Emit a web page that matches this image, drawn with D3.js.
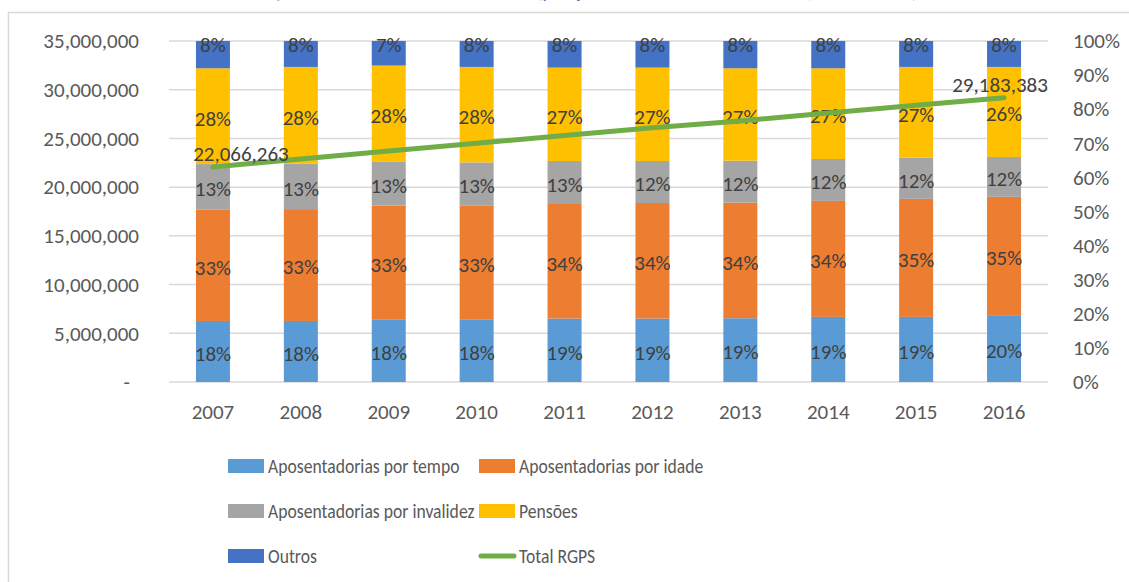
<!DOCTYPE html>
<html>
<head>
<meta charset="utf-8">
<script src="https://cdn.jsdelivr.net/npm/d3@7"></script>
<style>
  body { margin: 0; background: #fff; }
  text { font-family: Calibri, Carlito, Lato, sans-serif; }
</style>
</head>
<body>
<script>
  var years = ["2007","2008","2009","2010","2011","2012","2013","2014","2015","2016"];
  var seriesNames = ["Aposentadorias por tempo","Aposentadorias por idade","Aposentadorias por invalidez","Pensões","Outros"];
  var seriesColors = ["#5b9bd5","#ed7d31","#a5a5a5","#ffc000","#4472c4"];

  // shares in % of total, per year
  var tempo     = [17.9, 17.9, 18.4, 18.4, 18.6, 18.6, 18.7, 19.1, 19.1, 19.6];
  var idade     = [32.6, 32.8, 33.3, 33.4, 33.6, 33.9, 33.9, 34.0, 34.6, 34.7];
  var invalidez = [13.4, 13.4, 13.0, 12.6, 12.6, 12.3, 12.3, 12.3, 12.1, 11.7];
  var pensoes   = [28.1, 28.3, 28.1, 28.0, 27.4, 27.4, 27.1, 26.6, 26.6, 26.4];
  var outros    = [8.0, 7.6, 7.2, 7.6, 7.8, 7.8, 8.0, 8.0, 7.6, 7.6];

  var totalRGPS = [22066263, 22900000, 23700000, 24500000, 25300000, 26100000, 26800000, 27600000, 28400000, 29183383];

  var leftTicks = [0, 5e6, 10e6, 15e6, 20e6, 25e6, 30e6, 35e6];
  var rightTicks = [0, .1, .2, .3, .4, .5, .6, .7, .8, .9, 1];

  var svgWidth = 1129, svgHeight = 582;
  var plotLeft = 169, plotRight = 1048, plotTop = 41, plotBottom = 382;

  var svg = d3.select('body').append('svg')
    .attr('width', svgWidth)
    .attr('height', svgHeight);

  // caption of the figure, cut off at the top of the picture
  svg.append('text')
    .attr('x', 180).attr('y', -2)
    .attr('font-size', 19).attr('font-style', 'italic')
    .attr('fill', '#2e74b5')
    .text('Gráfico 1 – Quantidade de benefícios emitidos (posição em dezembro de cada ano, 2007 a 2016)');

  // chart box
  svg.append('rect')
    .attr('x', 8.5).attr('y', 12.5)
    .attr('width', svgWidth).attr('height', svgHeight)
    .attr('fill', '#fff')
    .attr('stroke', '#d9d9d9').attr('stroke-width', 1.5);

  var x = d3.scaleBand().domain(years).range([plotLeft, plotRight]);
  var yL = d3.scaleLinear().domain([0, 35e6]).range([plotBottom, plotTop]);
  var yR = d3.scaleLinear().domain([0, 1]).range([plotBottom, plotTop]);
  var barW = 34;

  // gridlines
  svg.append('g').selectAll('line')
    .data(leftTicks)
    .enter()
    .append('line')
      .attr('x1', plotLeft).attr('x2', plotRight)
      .attr('y1', function(d) { return yL(d); })
      .attr('y2', function(d) { return yL(d); })
      .attr('stroke', '#d9d9d9').attr('stroke-width', 1.5);

  // left axis
  var axL = svg.append('g')
    .attr('transform', 'translate(' + (plotLeft - 30) + ',0)')
    .call(d3.axisLeft(yL).tickValues(leftTicks).tickSize(0).tickPadding(0)
      .tickFormat(function(d) { return d === 0 ? '-' : d3.format(',')(d); }));
  axL.select('.domain').remove();
  axL.selectAll('text')
    .attr('font-size', 21).attr('fill', '#595959')
    .attr('dx', function(d) { return d === 0 ? -9 : 0; });

  // right axis
  var axR = svg.append('g')
    .attr('transform', 'translate(' + (plotRight + 25) + ',0)')
    .call(d3.axisRight(yR).tickValues(rightTicks).tickSize(0).tickPadding(0)
      .tickFormat(d3.format('.0%')));
  axR.select('.domain').remove();
  axR.selectAll('text').attr('font-size', 21).attr('fill', '#595959');

  // x axis labels
  var axX = svg.append('g')
    .attr('transform', 'translate(0,' + (plotBottom + 22) + ')')
    .call(d3.axisBottom(x).tickSize(0).tickPadding(0));
  axX.select('.domain').remove();
  axX.selectAll('text').attr('font-size', 21).attr('fill', '#595959');

  // stacked shares
  var rows = years.map(function(y, i) {
    return {
      year: y,
      s0: tempo[i], s1: idade[i], s2: invalidez[i], s3: pensoes[i], s4: outros[i]
    };
  });
  var stack = d3.stack().keys(['s0','s1','s2','s3','s4'])(rows);

  var layers = svg.append('g').selectAll('g')
    .data(stack)
    .enter()
    .append('g')
      .attr('fill', function(d, i) { return seriesColors[i]; });

  layers.selectAll('rect')
    .data(function(d) { return d; })
    .enter()
    .append('rect')
      .attr('x', function(d) { return x(d.data.year) + x.bandwidth() / 2 - barW / 2; })
      .attr('width', barW)
      .attr('y', function(d) { return yR(d[1] / 100); })
      .attr('height', function(d) { return yR(d[0] / 100) - yR(d[1] / 100); });

  var labels = svg.append('g');
  stack.forEach(function(layer, k) {
    labels.selectAll(null)
      .data(layer)
      .enter()
      .append('text')
        .attr('x', function(d) { return x(d.data.year) + x.bandwidth() / 2; })
        .attr('y', function(d) {
          if (k === 4) return yR(d[1] / 100) + 4;
          return (yR(d[0] / 100) + yR(d[1] / 100)) / 2 + 2;
        })
        .attr('dy', '0.35em')
        .attr('text-anchor', 'middle')
        .attr('font-size', 21)
        .attr('fill', '#404040')
        .text(function(d) { return Math.round(d[1] - d[0]) + '%'; });
  });

  // total line
  var line = d3.line()
    .x(function(d, i) { return x(years[i]) + x.bandwidth() / 2; })
    .y(function(d) { return yL(d); });

  svg.append('path')
    .datum(totalRGPS)
    .attr('d', line)
    .attr('fill', 'none')
    .attr('stroke', '#70ad47')
    .attr('stroke-width', 5)
    .attr('stroke-linecap', 'round');

  var lineLabels = [{i: 0, dx: 28}, {i: totalRGPS.length - 1, dx: -4}];
  svg.append('g').selectAll('text')
    .data(lineLabels)
    .enter()
    .append('text')
      .attr('x', function(d) { return x(years[d.i]) + x.bandwidth() / 2 + d.dx; })
      .attr('y', function(d) { return yL(totalRGPS[d.i]) - 6; })
      .attr('text-anchor', 'middle')
      .attr('font-size', 21)
      .attr('fill', '#404040')
      .text(function(d) { return d3.format(',')(totalRGPS[d.i]); });

  // legend
  var legendItems = seriesNames.map(function(n, i) { return {name: n, color: seriesColors[i], type: 'rect'}; });
  legendItems.push({name: 'Total RGPS', color: '#70ad47', type: 'line'});

  var legend = svg.append('g').selectAll('g')
    .data(legendItems)
    .enter()
    .append('g')
      .attr('transform', function(d, i) {
        return 'translate(' + (i % 2 === 0 ? 228 : 479) + ',' + (466 + Math.floor(i / 2) * 45) + ')';
      });

  legend.filter(function(d) { return d.type === 'rect'; })
    .append('rect')
      .attr('x', 0).attr('y', -7)
      .attr('width', 36).attr('height', 14)
      .attr('fill', function(d) { return d.color; });

  legend.filter(function(d) { return d.type === 'line'; })
    .append('line')
      .attr('x1', 2).attr('x2', 35)
      .attr('y1', 0).attr('y2', 0)
      .attr('stroke', function(d) { return d.color; })
      .attr('stroke-width', 5)
      .attr('stroke-linecap', 'round');

  legend.append('text')
    .attr('transform', 'translate(40,0) scale(0.84,1)')
    .attr('dy', '0.35em')
    .attr('font-size', 21)
    .attr('fill', '#595959')
    .text(function(d) { return d.name; });
</script>
</body>
</html>
